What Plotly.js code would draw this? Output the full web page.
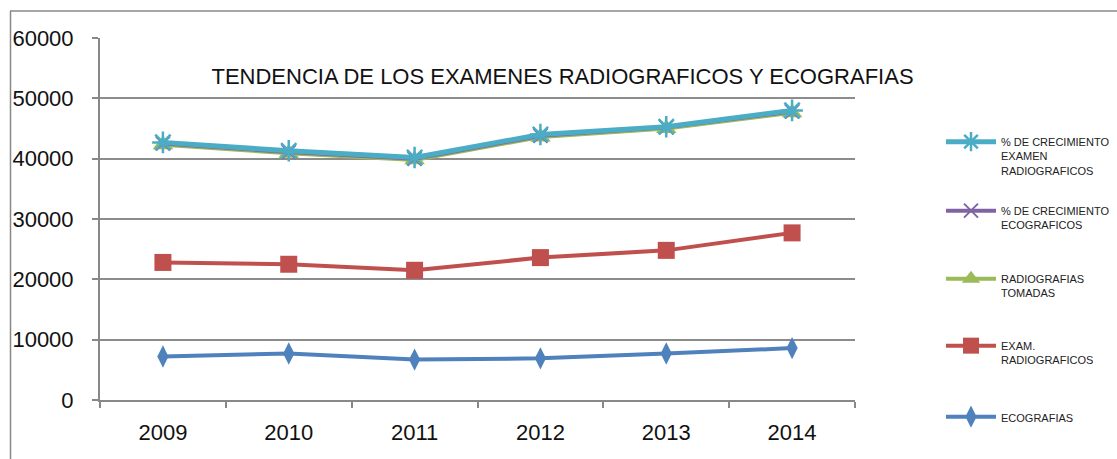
<!DOCTYPE html>
<html>
<head>
<meta charset="utf-8">
<script src="https://cdn.plot.ly/plotly-3.0.1.min.js"></script>
<style>html,body{margin:0;padding:0;background:#fff;}#chart{width:1117px;height:459px;}</style>
</head>
<body>
<div id="chart"></div>
<script>
const years = ['2009','2010','2011','2012','2013','2014'];
const ecografias = [7200, 7700, 6700, 6900, 7700, 8600];
const examRadiograficos = [22800, 22500, 21500, 23600, 24800, 27700];
const radiografiasTomadas = [42300, 40900, 39800, 43600, 45000, 47600];
const pctEcograficos = [42500, 41100, 40000, 43800, 45200, 47800];
const pctExamenRadio = [42700, 41300, 40200, 44000, 45300, 48000];
const yTicks = [0, 10000, 20000, 30000, 40000, 50000, 60000];

const names = {
  eco: 'ECOGRAFIAS',
  exam: 'EXAM.<br>RADIOGRAFICOS',
  tom: 'RADIOGRAFIAS<br>TOMADAS',
  pctEco: '% DE CRECIMIENTO<br>ECOGRAFICOS',
  pctRad: '% DE CRECIMIENTO<br>EXAMEN<br>RADIOGRAFICOS'
};

const sans = '"Liberation Sans", Arial, sans-serif';

const traces = [
  {x: years, y: ecografias, name: names.eco, legend: 'legend5', type: 'scatter', mode: 'lines+markers',
   line: {color: '#4F81BD', width: 4}, marker: {symbol: 'diamond-tall', size: 16, color: '#4F81BD'}},
  {x: years, y: examRadiograficos, name: names.exam, legend: 'legend4', type: 'scatter', mode: 'lines+markers',
   line: {color: '#C0504D', width: 4}, marker: {symbol: 'square', size: 17, color: '#C0504D'}},
  {x: years, y: radiografiasTomadas, name: names.tom, legend: 'legend3', type: 'scatter', mode: 'lines+markers',
   line: {color: '#9BBB59', width: 4}, marker: {symbol: 'triangle-up', size: 18, color: '#9BBB59'}},
  {x: years, y: pctEcograficos, name: names.pctEco, legend: 'legend2', type: 'scatter', mode: 'lines+markers',
   line: {color: '#8064A2', width: 4}, marker: {symbol: 'x-thin-open', size: 14, color: '#8064A2', line: {width: 2, color: '#8064A2'}}},
  {x: years, y: pctExamenRadio, name: names.pctRad, legend: 'legend', type: 'scatter', mode: 'lines+markers',
   line: {color: '#4BACC6', width: 5}, marker: {symbol: 'asterisk-open', size: 18, color: '#4BACC6', line: {width: 2.5, color: '#4BACC6'}}}
];

function py(p) { return (400 - p) / 362; }
function px(p) { return (p - 100) / 755; }

function leg(topPx) {
  return {x: px(941), xanchor: 'left', y: py(topPx), yanchor: 'top', valign: 'top',
          bgcolor: 'rgba(0,0,0,0)', borderwidth: 0, itemwidth: 50,
          font: {family: sans, size: 11, color: '#222'}};
}

const layout = {
  width: 1117, height: 459,
  margin: {l: 100, r: 262, t: 38, b: 59, pad: 0, autoexpand: false},
  paper_bgcolor: '#fff', plot_bgcolor: '#fff',
  title: {text: 'TENDENCIA DE LOS EXAMENES RADIOGRAFICOS Y ECOGRAFIAS',
          font: {family: sans, size: 22, color: '#111'},
          xref: 'container', x: 562.5 / 1117, xanchor: 'center',
          yref: 'container', y: 1 - 76 / 459, yanchor: 'middle', automargin: false},
  xaxis: {type: 'category', range: [-0.5, 5.5], tickson: 'boundaries', ticks: 'outside', ticklen: 6,
          tickcolor: '#888', tickwidth: 2, showline: true, linecolor: '#888', linewidth: 2,
          showgrid: false, ticklabelstandoff: 12,
          tickfont: {family: sans, size: 22, color: '#111'}},
  yaxis: {range: [0, 60000], tickvals: yTicks, ticktext: yTicks.map(String), ticks: 'outside', ticklen: 6,
          tickcolor: '#888', tickwidth: 2, showline: true, linecolor: '#888', linewidth: 2,
          showgrid: true, gridcolor: '#8c8c8c', gridwidth: 2, zeroline: false, ticklabelstandoff: 14,
          tickfont: {family: sans, size: 22, color: '#111'}},
  legend: leg(128), legend2: leg(197), legend3: leg(265), legend4: leg(332), legend5: leg(403),
  shapes: [
    {type: 'line', xref: 'paper', yref: 'paper', x0: px(10.5), x1: px(10.5), y0: py(11), y1: py(470), line: {color: '#888', width: 1.5}},
    {type: 'line', xref: 'paper', yref: 'paper', x0: px(10), x1: px(1130), y0: py(11), y1: py(11), line: {color: '#888', width: 1.5}}
  ],
  showlegend: true
};

Plotly.newPlot('chart', traces, layout, {displayModeBar: false, staticPlot: true});
</script>
</body>
</html>
